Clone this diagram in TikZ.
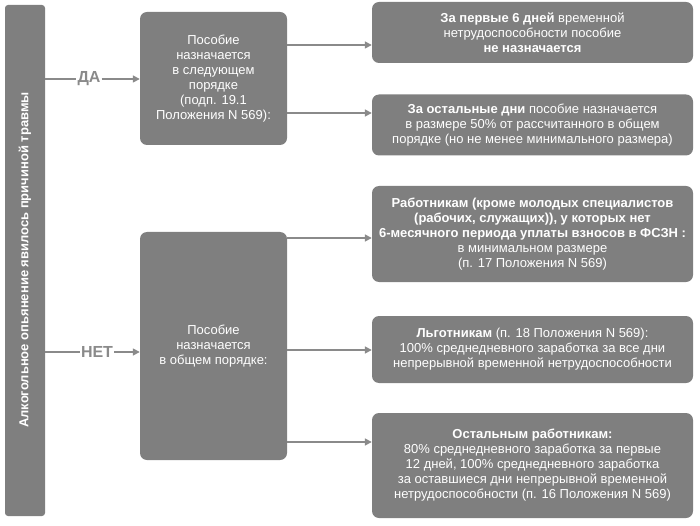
\documentclass[tikz,border=0pt]{standalone}
\usepackage{fontspec}
\setmainfont{Liberation Sans}
\usetikzlibrary{arrows.meta}
\definecolor{bx}{HTML}{7F7F7F}
\definecolor{ln}{HTML}{8A8A8A}
\begin{document}
\begin{tikzpicture}[x=1pt,y=-1pt,
 box/.style={fill=bx,rounded corners=7pt,text=white,align=center,font=\fontsize{13}{15}\selectfont,inner sep=1pt},
 arr/.style={draw=ln,line width=1.6pt,-{Triangle[length=7pt,width=7pt]}},
 lab/.style={text=ln,font=\bfseries\fontsize{16}{18}\selectfont,inner sep=1pt}]
\useasboundingbox (0,0) rectangle (700,526);
\fill[bx,rounded corners=3pt] (5,5) rectangle (45,516);
\node[text=white,font=\bfseries\fontsize{13}{15}\selectfont,rotate=90] (L) at (25,260) {Алкогольное опьянение явилось причиной травмы};
\node[box,minimum width=147,minimum height=133] (B1) at (213.5,78.5) {Пособие\\назначается\\в следующем\\порядке\\(подп. 19.1\\Положения N 569):};
\node[box,minimum width=147,minimum height=228] (B2) at (213.5,346) {Пособие\\назначается\\в общем порядке:};
\node[box,minimum width=321,minimum height=61] (R1) at (532.5,32.5) {\textbf{За первые 6 дней} временной\\нетрудоспособности пособие\\\textbf{не назначается}};
\node[box,minimum width=321,minimum height=61] (R2) at (532.5,125) {\textbf{За остальные дни} пособие назначается\\в размере 50\% от рассчитанного в общем\\порядке (но не менее минимального размера)};
\node[box,minimum width=321,minimum height=96] (R3) at (532.5,234) {\textbf{Работникам (кроме молодых специалистов}\\\textbf{(рабочих, служащих)), у которых нет}\\\textbf{6-месячного периода уплаты взносов в ФСЗН :}\\в минимальном размере\\(п. 17 Положения N 569)};
\node[box,minimum width=321,minimum height=67] (R4) at (532.5,349.5) {\textbf{Льготникам} (п. 18 Положения N 569):\\100\% среднедневного заработка за все дни\\непрерывной временной нетрудоспособности};
\node[box,minimum width=321,minimum height=105] (R5) at (532.5,465.5) {\textbf{Остальным работникам:}\\80\% среднедневного заработка за первые\\12 дней, 100\% среднедневного заработка\\за оставшиеся дни непрерывной временной\\нетрудоспособности (п. 16 Положения N 569)};
\node[lab] (da) at (89,79) {ДА};
\node[lab] (net) at (97,352) {НЕТ};
\draw[draw=ln,line width=1.6pt] (45,79) -- (da.west);
\draw[arr] (da.east) -- (B1.west|-da);
\draw[draw=ln,line width=1.6pt] (45,352) -- (net.west);
\draw[arr] (net.east) -- (B2.west|-net);
\draw[arr] (B1.east|-0,45) -- (R1.west|-0,45);
\draw[arr] (B1.east|-0,113) -- (R2.west|-0,113);
\draw[arr] (B2.east|-0,238) -- (R3.west|-0,238);
\draw[arr] (B2.east|-0,350) -- (R4.west|-0,350);
\draw[arr] (B2.east|-0,442) -- (R5.west|-0,442);
\end{tikzpicture}
\end{document}
